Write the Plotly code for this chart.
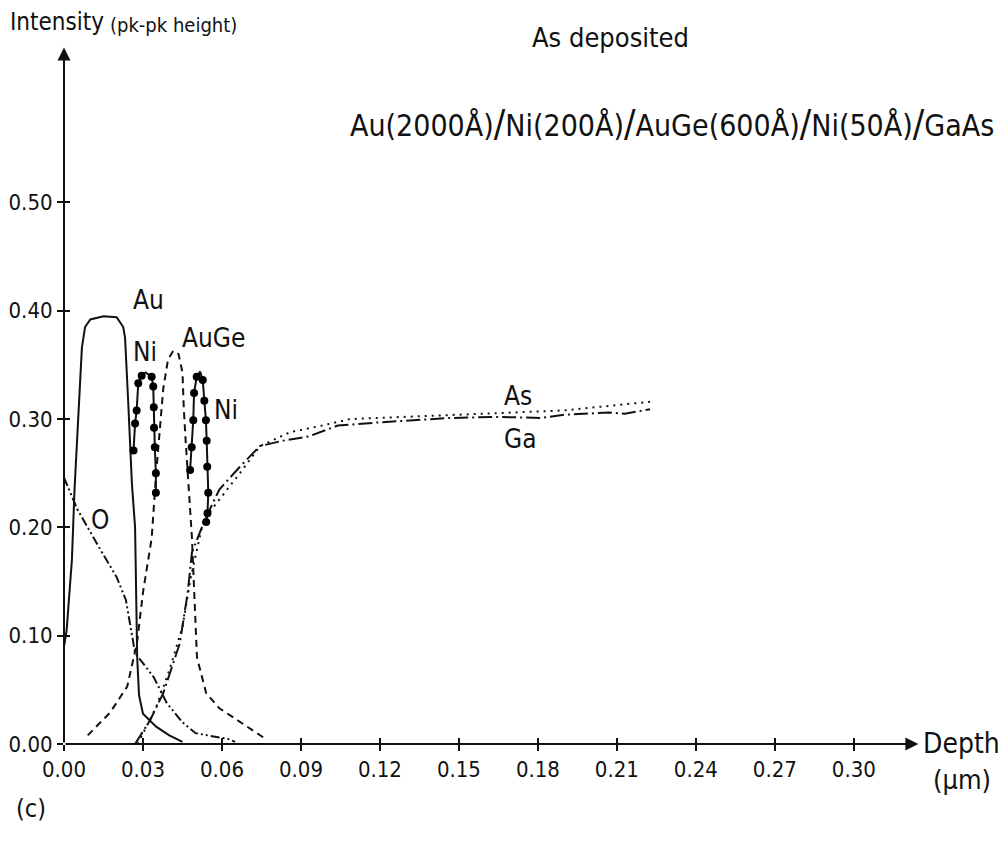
import plotly.graph_objects as go

# ---------------- data ----------------
au_x = [0.0, 0.001, 0.003, 0.004, 0.0053, 0.0068, 0.008, 0.010, 0.015, 0.020, 0.0225, 0.0232,
        0.0245, 0.0258, 0.027, 0.0277, 0.0278, 0.0285, 0.030, 0.035, 0.040, 0.045]
au_y = [0.09, 0.105, 0.17, 0.235, 0.296, 0.366, 0.385, 0.392, 0.395, 0.394, 0.385, 0.375,
        0.31, 0.24, 0.20, 0.105, 0.08, 0.045, 0.028, 0.016, 0.008, 0.002]

o_x = [0.0, 0.005, 0.0137, 0.020, 0.0235, 0.027, 0.034, 0.039, 0.045, 0.050, 0.059, 0.062, 0.065]
o_y = [0.246, 0.217, 0.18, 0.154, 0.133, 0.084, 0.062, 0.038, 0.02, 0.01, 0.006, 0.005, 0.002]

ni1_x = [0.0264, 0.027, 0.0276, 0.0282, 0.0295, 0.031, 0.0333, 0.0339, 0.0341, 0.0342, 0.0345, 0.0349, 0.0349]
ni1_y = [0.271, 0.296, 0.308, 0.333, 0.34, 0.343, 0.339, 0.33, 0.311, 0.292, 0.274, 0.25, 0.232]

ni2_x = [0.0479, 0.0485, 0.0491, 0.0494, 0.0504, 0.0517, 0.0527, 0.0533, 0.0539, 0.0542, 0.0544, 0.0548, 0.0545, 0.0540]
ni2_y = [0.253, 0.274, 0.299, 0.324, 0.339, 0.344, 0.336, 0.317, 0.299, 0.28, 0.256, 0.232, 0.213, 0.205]

auge_x = [0.009, 0.0175, 0.024, 0.0277, 0.030, 0.0333, 0.035, 0.0377, 0.0395, 0.0415, 0.0435, 0.045,
          0.0455, 0.0462, 0.0486, 0.050, 0.0505, 0.054, 0.059, 0.064, 0.070, 0.077]
auge_y = [0.008, 0.029, 0.053, 0.093, 0.14, 0.19, 0.25, 0.328, 0.355, 0.363, 0.36, 0.343,
          0.31, 0.28, 0.19, 0.105, 0.08, 0.047, 0.033, 0.025, 0.015, 0.004]

ga_x = [0.027, 0.0327, 0.0377, 0.044, 0.047, 0.0486, 0.0535, 0.059, 0.0668, 0.0744, 0.083, 0.093,
        0.104, 0.120, 0.1466, 0.165, 0.181, 0.190, 0.207, 0.213, 0.2226]
ga_y = [0.0, 0.022, 0.047, 0.093, 0.14, 0.177, 0.207, 0.235, 0.256, 0.275, 0.28, 0.284,
        0.294, 0.297, 0.301, 0.302, 0.301, 0.304, 0.306, 0.305, 0.309]

as_x = [0.028, 0.035, 0.040, 0.045, 0.048, 0.053, 0.0668, 0.0744, 0.086, 0.098, 0.1086, 0.130,
        0.144, 0.170, 0.190, 0.219, 0.2226]
as_y = [0.0, 0.034, 0.068, 0.108, 0.152, 0.207, 0.25, 0.275, 0.288, 0.294, 0.30, 0.302,
        0.303, 0.306, 0.308, 0.315, 0.316]

x_ticks = [0.00, 0.03, 0.06, 0.09, 0.12, 0.15, 0.18, 0.21, 0.24, 0.27, 0.30]
x_tick_labels = ["0.00", "0.03", "0.06", "0.09", "0.12", "0.15", "0.18", "0.21", "0.24", "0.27", "0.30"]
y_ticks = [0.0, 0.1, 0.2, 0.3, 0.4, 0.5]
y_tick_labels = ["0.00", "0.10", "0.20", "0.30", "0.40", "0.50"]

# ---------------- styling ----------------
FONT = "DejaVu Sans Condensed, Liberation Sans Narrow, Arial Narrow, sans-serif"
BLACK = "#111111"

fig = go.Figure()


def line(x, y, dash, name):
    fig.add_trace(go.Scatter(x=x, y=y, mode="lines", name=name, showlegend=False,
                             line=dict(color=BLACK, width=2, dash=dash)))


line(au_x, au_y, "solid", "Au")
line(o_x, o_y, "9px,3px,2px,3px,2px,3px", "O")
line(auge_x, auge_y, "7px,5px", "AuGe")
line(ga_x, ga_y, "14px,4px,2px,4px", "Ga")
line(as_x, as_y, "2px,5px", "As")

for nx, ny in [(ni1_x, ni1_y), (ni2_x, ni2_y)]:
    peak = max(ny)
    sizes = [0 if v == peak else 8 for v in ny]
    fig.add_trace(go.Scatter(x=nx, y=ny, mode="lines+markers", showlegend=False, name="Ni",
                             line=dict(color=BLACK, width=2),
                             marker=dict(color="#000000", size=sizes, opacity=1,
                                         line=dict(width=0))))

# invisible trace to carry the crossing-tick overlay axes
fig.add_trace(go.Scatter(x=[0], y=[0], xaxis="x2", yaxis="y2", mode="markers",
                         marker=dict(size=0, opacity=0), showlegend=False, hoverinfo="skip"))

L, R, T, B = 64, 61, 40, 98
XMAX, YMAX = 0.335, 0.65

axis_common = dict(showgrid=False, zeroline=False, showline=False, ticklen=6, tickwidth=2,
                   tickcolor=BLACK)
tickfont = dict(family=FONT, size=22, color=BLACK)

fig.update_layout(
    width=1007, height=842,
    margin=dict(l=L, r=R, t=T, b=B, autoexpand=False),
    paper_bgcolor="white", plot_bgcolor="white",
    xaxis=dict(range=[0, XMAX], tickvals=x_ticks, ticktext=x_tick_labels, ticks="outside",
               tickfont=tickfont, **axis_common),
    yaxis=dict(range=[0, YMAX], tickvals=y_ticks, ticktext=y_tick_labels, ticks="outside",
               tickfont=tickfont, **axis_common),
    xaxis2=dict(range=[0, XMAX], overlaying="x", matches="x", tickvals=x_ticks, ticks="inside",
                showticklabels=False, **axis_common),
    yaxis2=dict(range=[0, YMAX], overlaying="y", matches="y", tickvals=y_ticks, ticks="inside",
                showticklabels=False, **axis_common),
)

# axes drawn as arrows
fig.add_annotation(x=0.3245, y=0, ax=0, ay=0, xref="x", yref="y", axref="x", ayref="y",
                   showarrow=True, arrowhead=2, arrowsize=1.3, arrowwidth=2, arrowcolor=BLACK, text="")
fig.add_annotation(x=0, y=0.643, ax=0, ay=0, xref="x", yref="y", axref="x", ayref="y",
                   showarrow=True, arrowhead=2, arrowsize=1.3, arrowwidth=2, arrowcolor=BLACK, text="")


def label(text, x, y, size=26, xref="x", yref="y", xanchor="center"):
    fig.add_annotation(text=text, x=x, y=y, xref=xref, yref=yref, showarrow=False,
                       xanchor=xanchor, yanchor="middle",
                       font=dict(family=FONT, size=size, color=BLACK))


# curve labels (data coordinates)
label("Au", 0.032, 0.41)
label("Ni", 0.0308, 0.362)
label("AuGe", 0.0566, 0.375)
label("Ni", 0.0615, 0.308)
label("O", 0.0137, 0.207)
label("As", 0.1724, 0.321)
label("Ga", 0.1732, 0.282)


# page texts (paper coordinates computed from pixel positions)
def px(xp):
    return (xp - L) / (1007 - L - R)


def py(yp):
    return (842 - B - yp) / (842 - T - B)


SL = '<span style="font-size:38px">/</span>'
formula = "Au(2000Å)" + SL + "Ni(200Å)" + SL + "AuGe(600Å)" + SL + "Ni(50Å)" + SL + "GaAs"

label("Intensity", px(8), py(22), size=24, xref="paper", yref="paper", xanchor="left")
label("(pk-pk height)", px(108), py(25), size=20, xref="paper", yref="paper", xanchor="left")
label("As deposited", px(610), py(38), size=27, xref="paper", yref="paper")
label(formula, px(672), py(123), size=30, xref="paper", yref="paper")
label("Depth", px(921), py(743), size=28, xref="paper", yref="paper", xanchor="left")
label("(µm)", px(962), py(779), size=27, xref="paper", yref="paper")
label("(c)", px(14), py(808), size=25, xref="paper", yref="paper", xanchor="left")

fig.write_html("out.html")
